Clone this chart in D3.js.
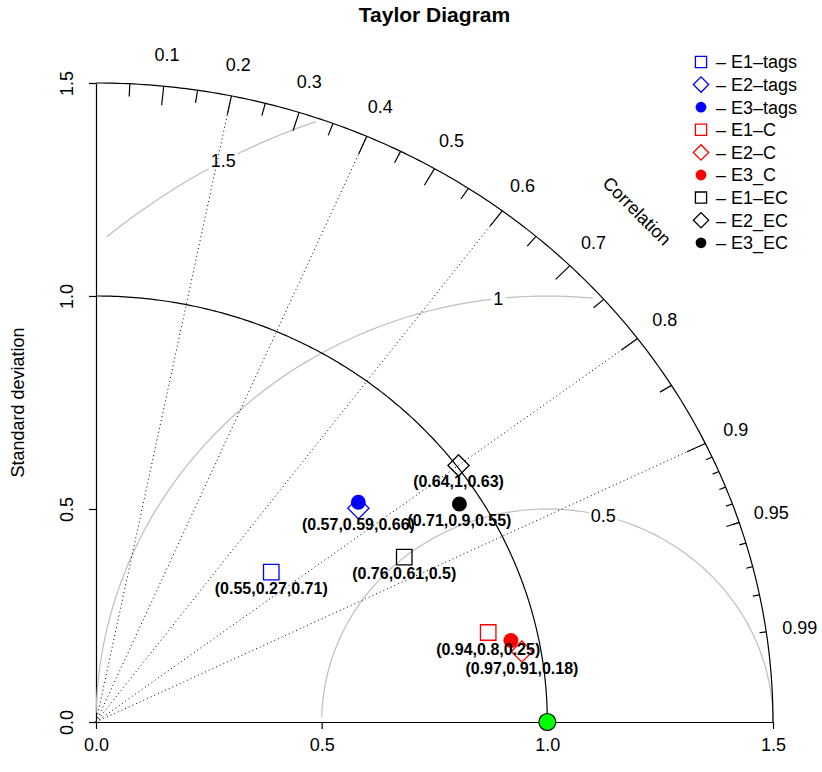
<html>
  <script src="https://d3js.org/d3.v7.min.js"></script>
  <style>
    body { margin: 0; background: white; }
    text { font-family: 'Liberation Sans', Arial, sans-serif; }
  </style>
  <body>
    <svg id="vis" width="822" height="772"></svg>
    <script>
      // models: name, standard deviation, correlation, point label
      const modelNames = ["E1-tags", "E2-tags", "E3-tags", "E1-C", "E2-C", "E3_C", "E1-EC", "E2_EC", "E3_EC"]
      const modelSd    = [0.524, 0.768, 0.777, 0.894, 0.958, 0.939, 0.785, 1.004, 0.954]
      const modelCor   = [0.741, 0.757, 0.748, 0.972, 0.985, 0.979, 0.870, 0.800, 0.844]
      const modelLabel = ["(0.55,0.27,0.71)", "(0.57,0.59,0.66)", "", "(0.94,0.8,0.25)", "(0.97,0.91,0.18)", "", "(0.76,0.61,0.5)", "(0.64,1,0.63)", "(0.71,0.9,0.55)"]
      const legendText = ["\u2013 E1\u2013tags", "\u2013 E2\u2013tags", "\u2013 E3\u2013tags", "\u2013 E1\u2013C", "\u2013 E2\u2013C", "\u2013 E3_C", "\u2013 E1\u2013EC", "\u2013 E2_EC", "\u2013 E3_EC"]

      const refSd = 1.0
      const maxSd = 1.5
      const sdTicks = [0, 0.5, 1.0, 1.5]
      const gammaLevels = [0.5, 1, 1.5]
      const corrLabels = [0.1, 0.2, 0.3, 0.4, 0.5, 0.6, 0.7, 0.8, 0.9, 0.95, 0.99]
      const corrBig = [0.1, 0.2, 0.3, 0.4, 0.5, 0.6, 0.7, 0.8, 0.9]
      const corrMed = [0.05, 0.15, 0.25, 0.35, 0.45, 0.55, 0.65, 0.75, 0.85, 0.95]
      const corrSmall = [0.91, 0.92, 0.93, 0.94, 0.95, 0.96, 0.97, 0.98, 0.99]
      const corrLines = [0.2, 0.4, 0.6, 0.8, 0.9]

      const fs = "18px"
      const svg = d3.select("#vis")

      const x = d3.scaleLinear().domain([0, 1.5]).range([96, 773])
      const y = d3.scaleLinear().domain([0, 1.5]).range([722, 83])

      const color = d3.scaleOrdinal().domain(["tags", "C", "EC"]).range(["#0000ff", "#ff0000", "#000000"])
      const groupOf = n => n.split(/[-_]/)[1]
      const shapeOf = n => n.slice(0, 2)

      const line = d3.line().x(d => x(d[0])).y(d => y(d[1]))
      const polar = (r, a) => [r * Math.cos(a), r * Math.sin(a)]

      // title
      svg.append("text")
        .attr("x", (x(0) + x(1.5)) / 2).attr("y", 22)
        .attr("text-anchor", "middle")
        .style("font-weight", "bold").style("font-size", "21px")
        .text("Taylor Diagram")

      // axes
      const xAxis = svg.append("g")
        .attr("transform", `translate(0,${y(0)})`)
        .call(d3.axisBottom(x).tickValues(sdTicks).tickFormat(d3.format(".1f")).tickSize(7).tickSizeOuter(0).tickPadding(9))
      xAxis.selectAll("text").style("font-size", fs).attr("fill", "black")

      const yAxis = svg.append("g")
        .attr("transform", `translate(${x(0)},0)`)
        .call(d3.axisLeft(y).tickValues(sdTicks).tickFormat(d3.format(".1f")).tickSize(7).tickSizeOuter(0))
      yAxis.selectAll("text")
        .style("font-size", fs).attr("fill", "black")
        .attr("text-anchor", "middle")
        .attr("transform", "rotate(-90)")
        .attr("x", 0).attr("y", -23).attr("dy", 0)
      svg.selectAll(".domain, .tick line").attr("stroke", "black").attr("stroke-width", 1.2)

      svg.append("text")
        .attr("transform", `translate(24,${(y(0) + y(1.5)) / 2}) rotate(-90)`)
        .attr("text-anchor", "middle")
        .style("font-size", fs)
        .text("Standard deviation")

      // RMS arcs around the reference point
      const steps = d3.range(0, 105).map(i => i * 0.03)
      gammaLevels.forEach((g, gi) => {
        const pts = steps.map(t => [refSd + g * Math.cos(t), g * Math.sin(t)])
        let end = pts.findIndex(p => p[0] < 0)
        end = end < 0 ? pts.length - 1 : end - 1
        let start = 0
        pts.forEach((p, i) => { if (p[0] * p[0] + p[1] * p[1] > maxSd * maxSd) start = i + 1 })
        svg.append("path")
          .attr("d", line(pts.slice(start, end + 1)))
          .attr("fill", "none").attr("stroke", "#bebebe").attr("stroke-width", 1.2)
        const lp = Math.floor(d3.scaleLinear().domain([0, gammaLevels.length - 1]).range([45, 70])(gi)) - 1
        const p = pts[lp]
        if (p[0] > 0) {
          const t = svg.append("text")
            .attr("x", x(p[0])).attr("y", y(p[1]))
            .attr("dy", "0.35em").attr("text-anchor", "middle")
            .style("font-size", fs)
            .text(g)
          const bb = t.node().getBBox()
          svg.insert("rect", () => t.node())
            .attr("x", bb.x - 2).attr("y", bb.y + 2).attr("width", bb.width + 4).attr("height", bb.height - 4)
            .attr("fill", "white")
        }
      })

      // sd arcs: reference and outer
      const arcPts = r => d3.range(0, 201).map(i => polar(r, i / 200 * Math.PI / 2))
      svg.append("path").attr("d", line(arcPts(refSd)))
        .attr("fill", "none").attr("stroke", "black").attr("stroke-width", 1.2)
      svg.append("path").attr("d", line(arcPts(maxSd)))
        .attr("fill", "none").attr("stroke", "black").attr("stroke-width", 1.2)

      // correlation rays
      corrLines.forEach(c => {
        const a = Math.acos(c)
        svg.append("path").attr("d", line([[0, 0], polar(maxSd, a)]))
          .attr("stroke", "black").attr("stroke-width", 1).attr("stroke-dasharray", "1,3")
      })

      // correlation ticks
      const ticks = (vals, frac) => vals.forEach(c => {
        const a = Math.acos(c)
        svg.append("path").attr("d", line([polar(maxSd, a), polar(maxSd * frac, a)]))
          .attr("stroke", "black").attr("stroke-width", 1.2)
      })
      ticks(corrBig, 0.97)
      ticks(corrMed, 0.98)
      ticks(corrSmall, 0.99)

      corrLabels.forEach(c => {
        const p = polar(maxSd * 1.05, Math.acos(c))
        svg.append("text")
          .attr("x", x(p[0])).attr("y", y(p[1]))
          .attr("dy", "0.35em").attr("text-anchor", "middle")
          .style("font-size", fs)
          .text(c)
      })

      svg.append("text")
        .attr("transform", "translate(637,211) rotate(45)")
        .attr("text-anchor", "middle").attr("dy", "0.35em")
        .style("font-size", fs)
        .text("Correlation")

      // symbols
      function drawSymbol(sel, name, cx, cy, scale) {
        const col = color(groupOf(name))
        const s = shapeOf(name)
        if (s === "E1") {
          sel.append("path").attr("d", d3.symbol(d3.symbolSquare, 240 * scale)())
            .attr("transform", `translate(${cx},${cy})`)
            .attr("fill", "none").attr("stroke", col).attr("stroke-width", 1.3)
        } else if (s === "E2") {
          sel.append("path").attr("d", d3.symbol(d3.symbolSquare, 225 * scale)())
            .attr("transform", `translate(${cx},${cy}) rotate(45)`)
            .attr("fill", "none").attr("stroke", col).attr("stroke-width", 1.3)
        } else {
          sel.append("path").attr("d", d3.symbol(d3.symbolCircle, 175 * scale)())
            .attr("transform", `translate(${cx},${cy})`)
            .attr("fill", col)
        }
      }

      modelNames.forEach((n, i) => {
        const p = polar(modelSd[i], Math.acos(modelCor[i]))
        drawSymbol(svg, n, x(p[0]), y(p[1]), 1)
      })
      modelNames.forEach((n, i) => {
        if (!modelLabel[i]) return
        const p = polar(modelSd[i], Math.acos(modelCor[i]))
        svg.append("text")
          .attr("x", x(p[0])).attr("y", y(p[1]) + 16.5)
          .attr("dy", "0.35em").attr("text-anchor", "middle")
          .style("font-size", "16px").style("font-weight", "bold")
          .text(modelLabel[i])
      })

      // reference point
      svg.append("circle")
        .attr("cx", x(refSd)).attr("cy", y(0)).attr("r", 8.5)
        .attr("fill", "#00ff00").attr("stroke", "black").attr("stroke-width", 1.2)

      // legend
      const legend = svg.append("g")
      modelNames.forEach((n, i) => {
        const ly = 62 + i * 22.6
        drawSymbol(legend, n, 701, ly, 0.52)
        legend.append("text")
          .attr("x", 716).attr("y", ly).attr("dy", "0.35em")
          .style("font-size", fs)
          .text(legendText[i])
      })
    </script>
  </body>
</html>
